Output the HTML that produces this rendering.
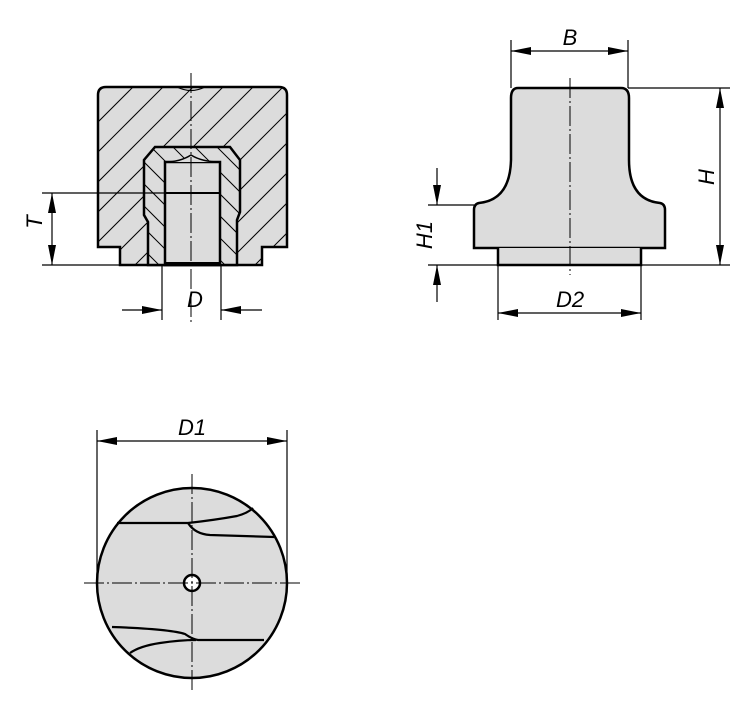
<!DOCTYPE html>
<html><head><meta charset="utf-8"><style>html,body{margin:0;padding:0;background:#fff}svg{display:block}</style></head><body>
<svg width="750" height="711" viewBox="0 0 750 711" xmlns="http://www.w3.org/2000/svg" font-family="Liberation Sans, sans-serif" font-style="italic">
<defs>
<marker id="a" viewBox="0 0 20 8" refX="20" refY="4" markerWidth="20" markerHeight="8" markerUnits="userSpaceOnUse" orient="auto-start-reverse"><path d="M0,0 L20,4 L0,8z" fill="#000"/></marker>
<clipPath id="cb"><path d="M98,95 Q98,87 106,87 L279,87 Q287,87 287,95 L287,247 L262,247 L262,265 L120,265 L120,247 L98,247 Z"/></clipPath>
<clipPath id="ci"><path d="M155,147 L230,147 L240,160 L240,212 L237,220 L237,265 L148,265 L148,222 L144,215 L144,160 Z"/></clipPath>
</defs>
<path d="M98,95 Q98,87 106,87 L279,87 Q287,87 287,95 L287,247 L262,247 L262,265 L120,265 L120,247 L98,247 Z" fill="#dcdcdc" stroke="#000" stroke-width="2.5"/>
<g clip-path="url(#cb)" stroke="#000" stroke-width="1">
<line x1="-130" y1="290" x2="90" y2="70"/><line x1="-100" y1="290" x2="120" y2="70"/><line x1="-70" y1="290" x2="150" y2="70"/><line x1="-40" y1="290" x2="180" y2="70"/><line x1="-10" y1="290" x2="210" y2="70"/><line x1="20" y1="290" x2="240" y2="70"/><line x1="50" y1="290" x2="270" y2="70"/><line x1="80" y1="290" x2="300" y2="70"/><line x1="110" y1="290" x2="330" y2="70"/><line x1="140" y1="290" x2="360" y2="70"/><line x1="170" y1="290" x2="390" y2="70"/><line x1="200" y1="290" x2="420" y2="70"/><line x1="230" y1="290" x2="450" y2="70"/><line x1="260" y1="290" x2="480" y2="70"/>
</g>
<path d="M155,147 L230,147 L240,160 L240,212 L237,220 L237,265 L148,265 L148,222 L144,215 L144,160 Z" fill="#dcdcdc" stroke="none"/>
<g clip-path="url(#ci)" stroke="#000" stroke-width="1">
<line x1="100" y1="30" x2="290" y2="220"/><line x1="100" y1="52" x2="290" y2="242"/><line x1="100" y1="74" x2="290" y2="264"/><line x1="100" y1="96" x2="290" y2="286"/><line x1="100" y1="118" x2="290" y2="308"/><line x1="100" y1="140" x2="290" y2="330"/><line x1="100" y1="162" x2="290" y2="352"/><line x1="100" y1="184" x2="290" y2="374"/><line x1="100" y1="206" x2="290" y2="396"/>
</g>
<path d="M155,147 L230,147 L240,160 L240,212 L237,220 L237,265 L148,265 L148,222 L144,215 L144,160 Z" fill="none" stroke="#000" stroke-width="2.5"/>
<rect x="165" y="162" width="55" height="103" fill="#dcdcdc" stroke="#000" stroke-width="2.5"/>
<path d="M165,162 Q180,162 191,155 Q202,162 220,162" fill="#dcdcdc" stroke="#000" stroke-width="1.5"/>
<path d="M177,87 Q191,94 205,87" fill="none" stroke="#000" stroke-width="1.2"/>
<line x1="165" y1="193" x2="220" y2="193" stroke="#000" stroke-width="2"/>
<line x1="165" y1="264" x2="220" y2="264" stroke="#000" stroke-width="4"/>
<line x1="191" y1="73" x2="191" y2="325" stroke="#000" stroke-width="1" stroke-dasharray="20,3,2,3"/>
<g stroke="#000" stroke-width="1.2" fill="none">
<line x1="42" y1="193" x2="165" y2="193"/><line x1="42" y1="265" x2="120" y2="265"/>
<line x1="52" y1="193" x2="52" y2="265" marker-start="url(#a)" marker-end="url(#a)"/>
<line x1="162" y1="265" x2="162" y2="320"/><line x1="221" y1="265" x2="221" y2="320"/>
<line x1="122" y1="310" x2="162" y2="310" marker-end="url(#a)"/><line x1="262" y1="310" x2="221" y2="310" marker-end="url(#a)"/>
</g>
<text x="195" y="307" font-size="22" text-anchor="middle">D</text>
<text transform="translate(42,222) rotate(-90)" font-size="22" text-anchor="middle">T</text>
<path d="M518,88 L621,88 Q629,88 629,98 L629,160 Q629,200 660,203 Q665,204 665,210 L665,248 L474,248 L474,210 Q474,204 479,203 Q510,200 511,160 L511,98 Q511,88 518,88 Z" fill="#dcdcdc" stroke="#000" stroke-width="2.5"/>
<path d="M498,248 L498,265 L641,265 L641,248" fill="#dcdcdc" stroke="#000" stroke-width="2.5"/>
<line x1="570" y1="78" x2="570" y2="275" stroke="#000" stroke-width="1" stroke-dasharray="20,3,2,3"/>
<g stroke="#000" stroke-width="1.2" fill="none">
<line x1="511" y1="40" x2="511" y2="88"/><line x1="628" y1="40" x2="628" y2="88"/>
<line x1="511" y1="51" x2="628" y2="51" marker-start="url(#a)" marker-end="url(#a)"/>
<line x1="628" y1="88" x2="730" y2="88"/><line x1="428" y1="265" x2="730" y2="265"/>
<line x1="720" y1="88" x2="720" y2="265" marker-start="url(#a)" marker-end="url(#a)"/>
<line x1="428" y1="205" x2="474" y2="205"/>
<line x1="437" y1="168" x2="437" y2="205" marker-end="url(#a)"/><line x1="437" y1="302" x2="437" y2="265" marker-end="url(#a)"/>
<line x1="498" y1="265" x2="498" y2="320"/><line x1="641" y1="265" x2="641" y2="320"/>
<line x1="498" y1="313" x2="641" y2="313" marker-start="url(#a)" marker-end="url(#a)"/>
</g>
<text x="570" y="45" font-size="22" text-anchor="middle">B</text>
<text x="570" y="307" font-size="22" text-anchor="middle">D2</text>
<text transform="translate(714,177) rotate(-90)" font-size="22" text-anchor="middle">H</text>
<text transform="translate(432,235) rotate(-90)" font-size="22" text-anchor="middle">H1</text>
<circle cx="192" cy="583" r="95" fill="#dcdcdc" stroke="#000" stroke-width="2.5"/>
<g stroke="#000" stroke-width="2.2" fill="none">
<path d="M117,523 L188,523 Q215,520 237,516 Q248,513 253,508"/>
<path d="M188,523 Q195,534 210,535 L274,537"/>
<path d="M112,627 Q170,629 185,634 Q192,639 198,640 L264,640"/>
<path d="M196,640 Q180,640 160,643 Q140,646 130,653"/>
</g>
<circle cx="192" cy="583" r="8" fill="#fff" stroke="#000" stroke-width="2.5"/>
<g stroke="#000" stroke-width="1" stroke-dasharray="20,3,2,3">
<line x1="84" y1="583" x2="302" y2="583"/><line x1="192" y1="474" x2="192" y2="692"/>
</g>
<g stroke="#000" stroke-width="1.2" fill="none">
<line x1="97" y1="430" x2="97" y2="583"/><line x1="287" y1="430" x2="287" y2="583"/>
<line x1="97" y1="441" x2="287" y2="441" marker-start="url(#a)" marker-end="url(#a)"/>
</g>
<text x="192" y="435" font-size="22" text-anchor="middle">D1</text>
</svg>
</body></html>
